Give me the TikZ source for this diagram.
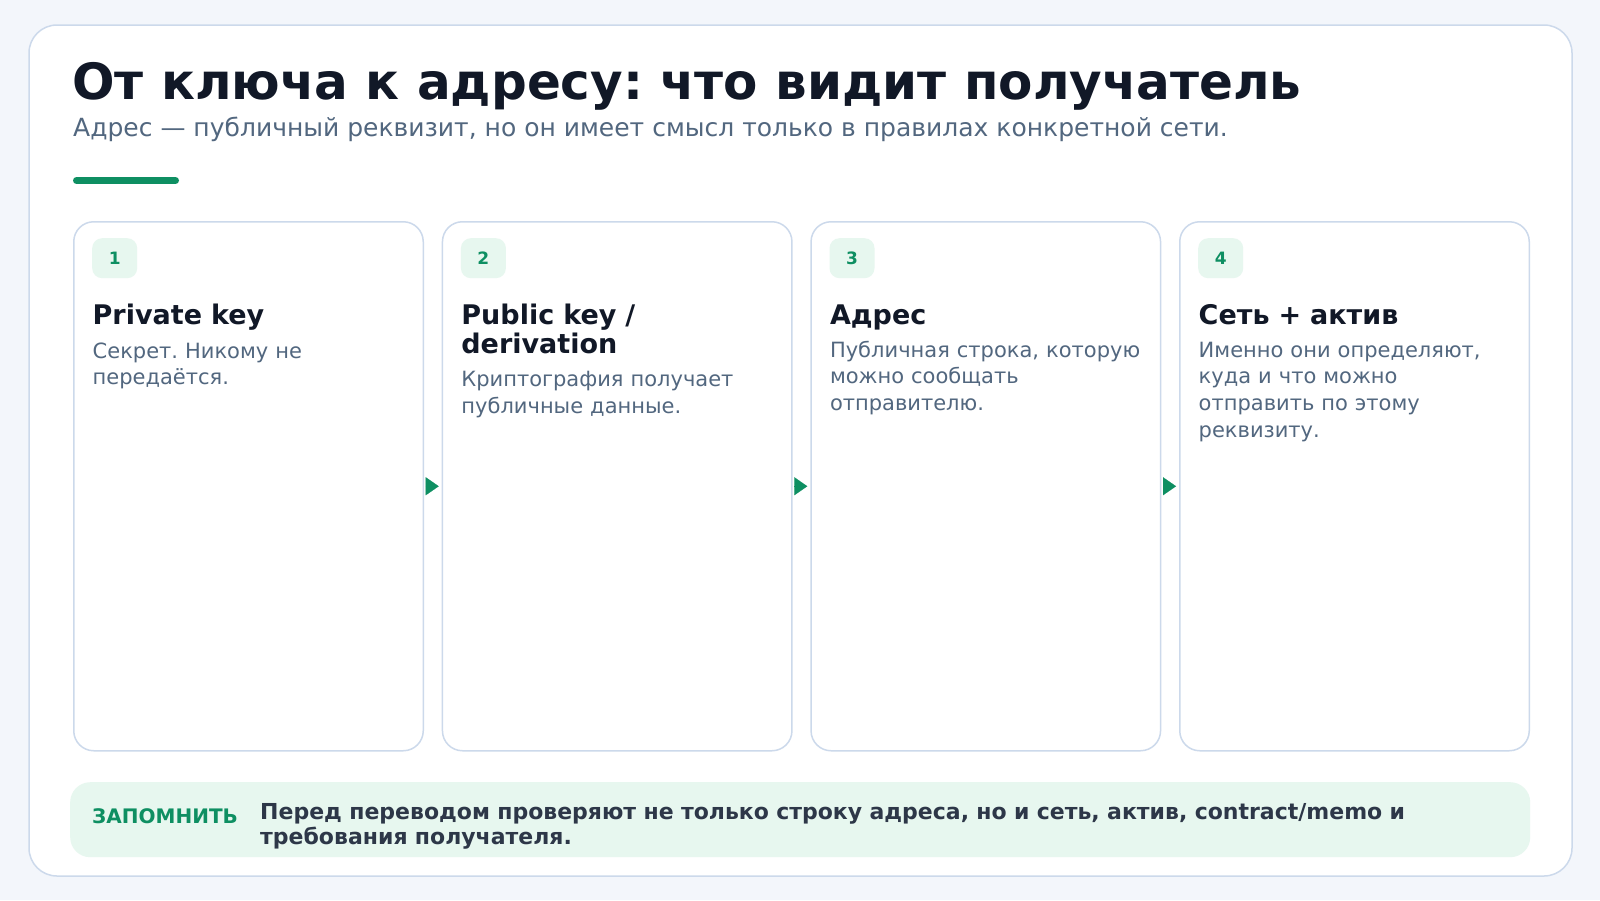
\documentclass[tikz,border=0pt]{standalone}
\usepackage{fontspec}
\setmainfont{DejaVu Sans}
\usetikzlibrary{arrows.meta,calc}
\definecolor{pagebg}{HTML}{F3F6FB}
\definecolor{edge}{HTML}{CCD9EB}
\definecolor{ink}{HTML}{111827}
\definecolor{muted}{HTML}{52677F}
\definecolor{accent}{HTML}{0E8F62}
\definecolor{mint}{HTML}{E7F7EF}
\definecolor{note}{HTML}{2D3748}
\frenchspacing
\begin{document}
\begin{tikzpicture}[x=1pt,y=-1pt,
  panel/.style={draw=edge,line width=1.5pt,fill=white,rounded corners=20pt,
    minimum width=349.5pt,minimum height=529pt,inner sep=0pt,anchor=north west},
  badge/.style={fill=mint,rounded corners=10pt,minimum width=45pt,minimum height=40pt,
    inner sep=0pt,anchor=north west,text=accent,font=\bfseries\fontsize{17}{19}\selectfont},
  cardtitle/.style={anchor=base west,inner sep=0pt,text=ink,text width=330pt,align=left,
    font=\bfseries\fontsize{27}{29}\selectfont},
  cardbody/.style={anchor=base west,inner sep=0pt,text=muted,text width=330pt,align=left,
    font=\fontsize{21}{26.8}\selectfont},
  flow/.style={draw=accent,fill=accent,line width=0.1pt,shorten <=3pt,shorten >=3pt,
    -{Triangle[length=13pt,width=18pt]}}
]
\useasboundingbox[fill=pagebg] (0,0) rectangle (1600,900);
\draw[draw=edge,line width=1.5pt,fill=white,rounded corners=28pt] (29,25) rectangle (1572,876);

\node[anchor=base west,inner sep=0pt,text=ink,font=\bfseries\fontsize{50}{60}\selectfont] (title) at (72,99) {От ключа к адресу: что видит получатель};
\node[anchor=base west,inner sep=0pt,text=muted,font=\fontsize{25}{30}\selectfont] (subtitle) at (73,136) {Адрес — публичный реквизит, но он имеет смысл только в правилах конкретной сети.};
\draw[accent,line width=7pt,line cap=round] (76.5,180.5) -- (175.5,180.5);

% cards
\node[panel] (c1) at (73,221) {};
\node[panel] (c2) at (441.7,221) {};
\node[panel] (c3) at (810.3,221) {};
\node[panel] (c4) at (1179,221) {};

\node[badge] (b1) at (92,238) {1};
\node[badge] (b2) at (460.7,238) {2};
\node[badge] (b3) at (829.3,238) {3};
\node[badge] (b4) at (1198,238) {4};

\node[cardtitle] (t1) at (92.5,324) {Private key};
\node[cardtitle] (t2) at (461.2,324) {Public key /\\derivation};
\node[cardtitle] (t3) at (829.8,324) {Адрес};
\node[cardtitle] (t4) at (1198.5,324) {Сеть + актив};

\node[cardbody] (d1) at (92.5,358) {Секрет. Никому не\\передаётся.};
\node[cardbody] (d2) at (461.2,386.5) {Криптография получает\\публичные данные.};
\node[cardbody] (d3) at (829.8,357) {Публичная строка, которую\\можно сообщать\\отправителю.};
\node[cardbody] (d4) at (1198.5,357) {Именно они определяют,\\куда и что можно\\отправить по этому\\реквизиту.};

\draw[flow] (c1.east) -- (c2.west);
\draw[flow] (c2.east) -- (c3.west);
\draw[flow] (c3.east) -- (c4.west);

% remember box
\node[fill=mint,rounded corners=20pt,minimum width=1460pt,minimum height=75pt,inner sep=0pt,anchor=north west] (memo) at (70,782) {};
\node[anchor=base west,inner sep=0pt,text=accent,font=\bfseries\fontsize{20}{24}\selectfont] (memolabel) at (92,823) {ЗАПОМНИТЬ};
\node[anchor=base west,inner sep=0pt,text=note,text width=1250pt,align=left,font=\bfseries\fontsize{22}{25.5}\selectfont] (memotext) at (260,819) {Перед переводом проверяют не только строку адреса, но и сеть, актив, contract/memo и\\требования получателя.};
\end{tikzpicture}
\end{document}
